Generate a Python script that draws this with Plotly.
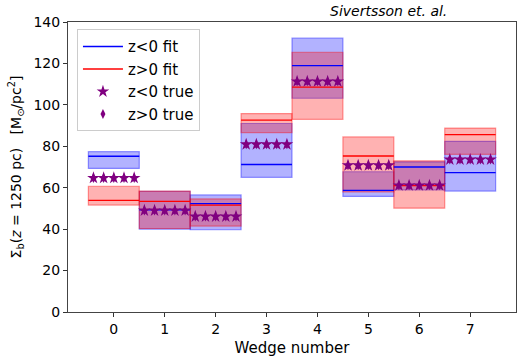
import plotly.graph_objects as go

wedges = [0, 1, 2, 3, 4, 5, 6, 7]
blue_lo = [69.3, 40.0, 39.7, 65.0, 103.2, 55.8, 58.9, 58.4]
blue_hi = [77.4, 58.2, 56.5, 91.0, 132.2, 67.7, 72.5, 82.4]
blue_fit = [75.2, 49.3, 52.3, 71.2, 118.9, 58.7, 70.0, 67.3]
red_lo = [51.6, 40.3, 41.5, 86.6, 93.0, 58.0, 50.1, 76.1]
red_hi = [60.7, 58.4, 54.6, 95.8, 125.4, 84.5, 73.0, 88.8]
red_fit = [53.9, 53.4, 51.6, 92.6, 108.6, 75.3, 61.0, 85.6]
true_neg = [64.7, 49.0, 46.1, 80.9, 111.3, 70.8, 61.1, 73.6]
true_pos = [64.7, 49.0, 46.1, 80.9, 111.3, 70.8, 61.1, 73.6]
star_offsets = [-0.4, -0.2, 0.0, 0.2, 0.4]

FONT = "DejaVu Sans"
fig = go.Figure()

# boxes
fig.add_trace(go.Bar(x=wedges, base=blue_lo, y=[h - l for h, l in zip(blue_hi, blue_lo)],
                     width=1.0, marker=dict(color="rgba(0,0,255,0.3)",
                                            line=dict(color="rgba(0,0,255,0.4)", width=1.2)),
                     showlegend=False, hoverinfo="skip"))
fig.add_trace(go.Bar(x=wedges, base=red_lo, y=[h - l for h, l in zip(red_hi, red_lo)],
                     width=1.0, marker=dict(color="rgba(255,0,0,0.3)",
                                            line=dict(color="rgba(255,0,0,0.4)", width=1.2)),
                     showlegend=False, hoverinfo="skip"))


def segs(vals):
    xs, ys = [], []
    for w, v in zip(wedges, vals):
        xs += [w - 0.5, w + 0.5, None]
        ys += [v, v, None]
    return xs, ys


bx, by = segs(blue_fit)
rx, ry = segs(red_fit)
fig.add_trace(go.Scatter(x=bx, y=by, mode="lines", line=dict(color="blue", width=1.3),
                         name="z<0 fit", legendrank=1))
fig.add_trace(go.Scatter(x=rx, y=ry, mode="lines", line=dict(color="red", width=1.3),
                         name="z>0 fit", legendrank=2))


def pts(vals):
    xs, ys = [], []
    for w, v in zip(wedges, vals):
        for o in star_offsets:
            xs.append(w + o)
            ys.append(v)
    return xs, ys


px_, py_ = pts(true_pos)
sx, sy = pts(true_neg)
fig.add_trace(go.Scatter(x=px_, y=py_, mode="markers",
                         marker=dict(symbol="diamond-tall", size=7, color="purple"),
                         name="z>0 true", legendrank=4))
fig.add_trace(go.Scatter(x=sx, y=sy, mode="markers",
                         marker=dict(symbol="star", size=9.5, color="purple", line=dict(width=0)),
                         name="z<0 true", legendrank=3))

fig.update_layout(
    width=520, height=363,
    margin=dict(l=68, r=4, t=22, b=51),
    paper_bgcolor="white", plot_bgcolor="white",
    barmode="overlay",
    font=dict(family=FONT, size=14, color="black"),
    legend=dict(x=0.02, y=0.975, xanchor="left", yanchor="top",
                bordercolor="#cccccc", borderwidth=1, bgcolor="rgba(255,255,255,0.8)",
                font=dict(size=15), itemwidth=40, tracegroupgap=0),
    annotations=[dict(text="<i>Sivertsson et. al.</i>", x=(388 - 68) / 448,
                      y=(311.7 - 11) / 289.4, xref="x domain", yref="y domain",
                      xanchor="center", yanchor="middle",
                      showarrow=False, font=dict(size=14))],
)

fig.update_xaxes(range=[-0.9, 7.9], tickmode="array", tickvals=wedges,
                 ticks="outside", ticklen=4, tickcolor="#333", showline=True, linecolor="#444",
                 mirror=True, showgrid=False, zeroline=False,
                 title=dict(text="Wedge number", font=dict(size=15), standoff=6))
fig.update_yaxes(range=[0, 140], dtick=20, ticks="outside", ticklen=4, tickcolor="#333",
                 showline=True, linecolor="#444", mirror=True, showgrid=False, zeroline=False,
                 title=dict(text="Σ<sub>b</sub>(<i>z</i> = 1250 pc)   [M<sub>⊙</sub>/pc<sup>2</sup>]",
                            font=dict(size=14), standoff=8))

fig.write_html("out.html", config={"displayModeBar": False},
               post_script="document.body.style.margin='0';")
